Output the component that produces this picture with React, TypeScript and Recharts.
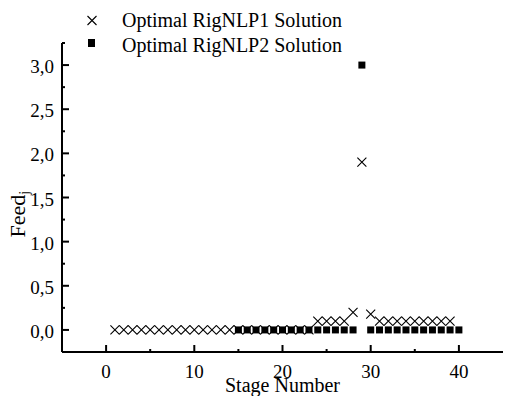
import React from "react";
import { ScatterChart, Scatter, XAxis, YAxis, Legend } from "recharts";

// RigNLP1 (crosses)
const stages1 = [
  1, 2, 3, 4, 5, 6, 7, 8, 9, 10, 11, 12, 13, 14, 15, 16, 17, 18, 19, 20, 21, 22, 23,
  24, 25, 26, 27, 28, 29, 30, 31, 32, 33, 34, 35, 36, 37, 38, 39,
];
const rig1 = [
  0, 0, 0, 0, 0, 0, 0, 0, 0, 0, 0, 0, 0, 0, 0, 0, 0, 0, 0, 0, 0, 0, 0,
  0.1, 0.1, 0.1, 0.1, 0.2, 1.9, 0.18, 0.1, 0.1, 0.1, 0.1, 0.1, 0.1, 0.1, 0.1, 0.1,
];

// RigNLP2 (squares)
const stages2 = [
  15, 16, 17, 18, 19, 20, 21, 22, 23, 24, 25, 26, 27, 28, 29, 30, 31, 32, 33, 34, 35,
  36, 37, 38, 39, 40,
];
const rig2 = [
  0, 0, 0, 0, 0, 0, 0, 0, 0, 0, 0, 0, 0, 0, 3.0, 0, 0, 0, 0, 0, 0, 0, 0, 0, 0, 0,
];

const xTicks = [0, 5, 10, 15, 20, 25, 30, 35, 40];
const yTicks = [0, 0.25, 0.5, 0.75, 1, 1.25, 1.5, 1.75, 2, 2.25, 2.5, 2.75, 3, 3.25];

const series1 = stages1.map((s, i) => ({ stage: s, feed: rig1[i] }));
const series2 = stages2.map((s, i) => ({ stage: s, feed: rig2[i] }));

const FONT = "'Liberation Serif', 'Times New Roman', serif";

const Cross = ({ cx, cy }: any) => (
  <path
    d={`M${cx - 4.5},${cy - 4.5}L${cx + 4.5},${cy + 4.5}M${cx - 4.5},${cy + 4.5}L${cx + 4.5},${cy - 4.5}`}
    stroke="#000"
    strokeWidth={1.1}
    fill="none"
  />
);

const Square = ({ cx, cy }: any) => (
  <rect x={cx - 3.5} y={cy - 3.5} width={7} height={7} fill="#000" />
);

const XTick = ({ x, y, payload }: any) => {
  const major = payload.value % 10 === 0;
  return (
    <g>
      <line x1={x} y1={y} x2={x} y2={y - (major ? 7 : 3)} stroke="#000" strokeWidth={2} />
      {major && (
        <text x={x} y={y + 26} textAnchor="middle" fontFamily={FONT} fontSize={19} fill="#000">
          {payload.value}
        </text>
      )}
    </g>
  );
};

const YTick = ({ x, y, payload }: any) => {
  const major = Math.abs((payload.value * 2) % 1) < 1e-6;
  return (
    <g>
      <line x1={x} y1={y} x2={x + (major ? 7 : 3)} y2={y} stroke="#000" strokeWidth={2} />
      {major && (
        <text x={x - 8} y={y + 8} textAnchor="end" fontFamily={FONT} fontSize={19} fill="#000">
          {payload.value.toFixed(1).replace(".", ",")}
        </text>
      )}
    </g>
  );
};

const LegendBox = () => (
  <svg width={420} height={60}>
    <g>
      <path d="M87.5,16L96.5,25M87.5,25L96.5,16" stroke="#000" strokeWidth={1.1} />
      <text x={122} y={27} fontFamily={FONT} fontSize={20} fill="#000">
        Optimal RigNLP1 Solution
      </text>
      <rect x={88} y={39} width={7} height={8} fill="#000" />
      <text x={122} y={52} fontFamily={FONT} fontSize={20} fill="#000">
        Optimal RigNLP2 Solution
      </text>
    </g>
  </svg>
);

export default function App() {
  return (
    <div style={{ position: "absolute", left: 0, top: 0 }}>
      <ScatterChart width={505} height={396} margin={{ top: 43, right: 2, left: 0, bottom: 0 }}>
        <XAxis
          type="number"
          dataKey="stage"
          domain={[-5, 45]}
          ticks={xTicks}
          interval={0}
          tickSize={0}
          tickMargin={0}
          tickLine={false}
          tick={<XTick />}
          height={44}
          axisLine={{ stroke: "#000", strokeWidth: 2 }}
          label={({ viewBox }: any) => (
            <text
              x={viewBox.x + viewBox.width / 2}
              y={392}
              textAnchor="middle"
              fontFamily={FONT}
              fontSize={20}
              fill="#000"
            >
              Stage Number
            </text>
          )}
        />
        <YAxis
          type="number"
          dataKey="feed"
          domain={[-0.25, 3.25]}
          ticks={yTicks}
          interval={0}
          tickSize={0}
          tickMargin={0}
          tickLine={false}
          tick={<YTick />}
          width={62}
          axisLine={{ stroke: "#000", strokeWidth: 2 }}
          label={({ viewBox }: any) => (
            <text
              transform={`translate(${viewBox.x + 25},${viewBox.y + viewBox.height / 2 + 40}) rotate(-90)`}
              fontFamily={FONT}
              fontSize={22}
              fill="#000"
            >
              Feed
              <tspan fontSize={14} dy={4}>j</tspan>
            </text>
          )}
        />
        <Legend
          layout="horizontal"
          verticalAlign="middle"
          align="center"
          wrapperStyle={{ position: "absolute", top: 0, left: 0, width: 420, height: 60 }}
          content={() => <LegendBox />}
        />
        <Scatter name="Optimal RigNLP1 Solution" data={series1} shape={<Cross />} isAnimationActive={false} />
        <Scatter name="Optimal RigNLP2 Solution" data={series2} shape={<Square />} isAnimationActive={false} />
      </ScatterChart>
    </div>
  );
}
